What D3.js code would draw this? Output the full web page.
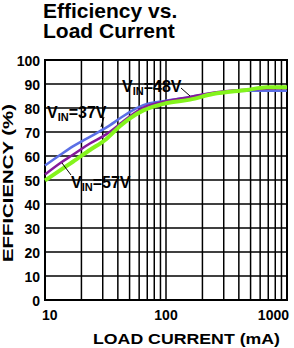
<!DOCTYPE html>
<html>
<head>
<meta charset="utf-8">
<script src="https://cdn.jsdelivr.net/npm/d3@7"></script>
<style>
    body { margin: 0; background: white; }
    text { font-family: "Liberation Sans", Arial, sans-serif; font-weight: bold; }
</style>
</head>
<body>
<script>
// load current (mA) and efficiency (%)
const loadCurrent = [10, 13.3, 17, 23.5, 32, 42, 50, 65, 100, 158, 244, 464, 680, 1000];
const eff37 = [56, 60.4, 64, 68, 71.8, 75.8, 78.3, 81.2, 83, 84.6, 86.2, 87.2, 87.2, 87.2];
const eff48 = [52.3, 57, 60.5, 65.2, 69, 73.5, 76.5, 80.2, 82.8, 84.6, 86.4, 87.6, 88, 88.2];
const eff57 = [49.8, 54, 57.6, 62.5, 67, 72.6, 75.6, 79, 82, 83.5, 85.8, 87.5, 88.6, 88.6];

const yTicks = [0, 10, 20, 30, 40, 50, 60, 70, 80, 90, 100];
const xLabels = [10, 100, 1000];
const xGrid = [20, 30, 40, 50, 60, 70, 80, 90, 100, 200, 300, 400, 500, 600, 700, 800, 900];

const series = [
    { name: "37", values: eff37, color: "#5b6fe6", width: 2.5 },
    { name: "48", values: eff48, color: "#86199c", width: 2.5 },
    { name: "57", values: eff57, color: "#84f41c", width: 4 }
];

const svg = d3.select("body")
    .append("svg")
    .attr("width", 294)
    .attr("height", 348)
    .style("background-color", "white");

const x = d3.scaleLog().domain([10, 1000]).range([45, 287]);
const y = d3.scaleLinear().domain([0, 100]).range([300, 60]);

// title
svg.append("text").attr("x", 43).attr("y", 18).attr("font-size", 21).text("Efficiency vs.");
svg.append("text").attr("x", 43).attr("y", 38).attr("font-size", 21).text("Load Current");

// grid
svg.append("g")
    .selectAll("line")
    .data(yTicks.slice(1, -1))
    .enter()
    .append("line")
    .attr("x1", x(10)).attr("x2", x(1000))
    .attr("y1", d => y(d)).attr("y2", d => y(d))
    .attr("stroke", "black").attr("stroke-width", 1.5);

svg.append("g")
    .selectAll("line")
    .data(xGrid)
    .enter()
    .append("line")
    .attr("x1", d => x(d)).attr("x2", d => x(d))
    .attr("y1", y(0)).attr("y2", y(100))
    .attr("stroke", "black").attr("stroke-width", 1.5);

// frame
svg.append("rect")
    .attr("x", x(10)).attr("y", y(100))
    .attr("width", x(1000) - x(10)).attr("height", y(0) - y(100))
    .attr("fill", "none").attr("stroke", "black").attr("stroke-width", 2);

// y tick labels
svg.append("g")
    .selectAll("text")
    .data(yTicks)
    .enter()
    .append("text")
    .attr("x", 40)
    .attr("y", d => y(d) + 6)
    .attr("text-anchor", "end")
    .attr("font-size", 14)
    .text(d => d);

// x tick labels
svg.append("g")
    .selectAll("text")
    .data(xLabels)
    .enter()
    .append("text")
    .attr("x", (d, i) => i === 0 ? x(d) - 3 : i === 2 ? x(d) + 2 : x(d))
    .attr("y", 320)
    .attr("text-anchor", (d, i) => i === 0 ? "start" : i === 2 ? "end" : "middle")
    .attr("font-size", 14)
    .text(d => d);

// axis titles
svg.append("text")
    .attr("x", 93).attr("y", 344)
    .attr("font-size", 15)
    .attr("textLength", 187).attr("lengthAdjust", "spacingAndGlyphs")
    .text("LOAD CURRENT (mA)");

svg.append("text")
    .attr("transform", "translate(13,262) rotate(-90)")
    .attr("font-size", 15)
    .attr("textLength", 158).attr("lengthAdjust", "spacingAndGlyphs")
    .text("EFFICIENCY (%)");

// curves
const line = d3.line()
    .x((d, i) => x(loadCurrent[i]))
    .y(d => y(d))
    .curve(d3.curveMonotoneX);

svg.append("g")
    .selectAll("path")
    .data(series)
    .enter()
    .append("path")
    .attr("d", d => line(d.values))
    .attr("fill", "none")
    .attr("stroke", d => d.color)
    .attr("stroke-width", d => d.width);

// VIN annotations
const labels = [
    { v: "37V", x: 47, y: 118, lead: [104, 117, 101, 127] },
    { v: "48V", x: 122, y: 92, lead: [181, 88, 190, 96] },
    { v: "57V", x: 71, y: 188, lead: [62, 163, 71, 175] }
];

labels.forEach(function (item) {
    let t = svg.append("text").attr("x", item.x).attr("y", item.y).attr("font-size", 16);
    t.append("tspan").text("V");
    t.append("tspan").attr("font-size", 11).attr("dy", 3).text("IN");
    t.append("tspan").attr("dy", -3).text("=" + item.v);

    if (item.lead) {
        svg.append("line")
            .attr("x1", item.lead[0]).attr("y1", item.lead[1])
            .attr("x2", item.lead[2]).attr("y2", item.lead[3])
            .attr("stroke", "black").attr("stroke-width", 1);
    }
});
</script>
</body>
</html>
